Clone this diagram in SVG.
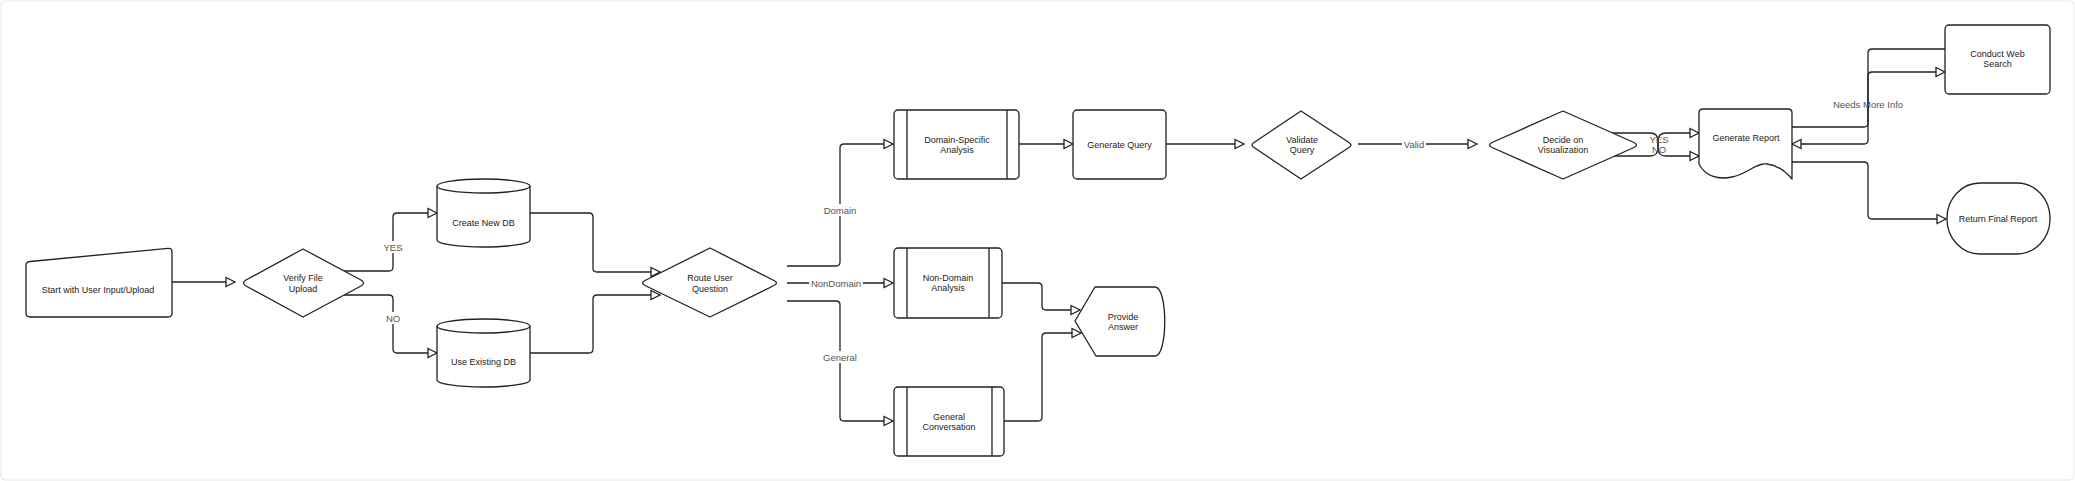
<svg xmlns="http://www.w3.org/2000/svg" width="2075" height="481" viewBox="0 0 2075 481">
<defs>
<marker id="arr" viewBox="0 0 12 12" refX="10.5" refY="6" markerWidth="12" markerHeight="12" markerUnits="userSpaceOnUse" orient="auto">
<path d="M1.5,1.5 L10.5,6 L1.5,10.5 Z" fill="#fff" stroke="#222" stroke-width="1.3" stroke-linejoin="miter"/>
</marker>
</defs>
<style>
.shape{fill:#fff;stroke:#222;stroke-width:1.3;stroke-linejoin:round}
.inner{fill:none;stroke:#222;stroke-width:1.3}
.edge{fill:none;stroke:#222;stroke-width:1.3;marker-end:url(#arr)}
.plain{fill:none;stroke:#222;stroke-width:1.3}
.t{font-family:"Liberation Sans",Arial,sans-serif;font-size:9px;fill:#222;text-anchor:middle;dominant-baseline:central}
.lbl{font-family:"Liberation Sans",Arial,sans-serif;font-size:9.5px;fill:#555;text-anchor:middle;dominant-baseline:central}
.bg{fill:#fff;stroke:none}
</style>
<rect x="1" y="1" width="2073" height="479" rx="4" fill="#fff" stroke="#e8e8e8" stroke-width="1"/>

<g id="connectors">
<path class="edge" d="M172,282 H235"/>
<path class="edge" d="M344,271 H389 Q393,271 393,267 V217 Q393,213 397,213 H437"/>
<path class="edge" d="M344,295 H389 Q393,295 393,299 V349 Q393,353 397,353 H437"/>
<path class="edge" d="M530,213 H589 Q593,213 593,217 V268 Q593,272 597,272 H660"/>
<path class="edge" d="M530,353 H589 Q593,353 593,349 V299 Q593,295 597,295 H660"/>
<path class="edge" d="M787,266 H836 Q840,266 840,262 V148 Q840,144 844,144 H893"/>
<path class="edge" d="M787,283 H893"/>
<path class="edge" d="M787,301 H836 Q840,301 840,305 V417 Q840,421 844,421 H893"/>
<path class="edge" d="M1019,144 H1073"/>
<path class="edge" d="M1002,283 H1038 Q1042,283 1042,287 V306 Q1042,310 1046,310 H1080"/>
<path class="edge" d="M1004,421 H1038 Q1042,421 1042,417 V337 Q1042,333 1046,333 H1081"/>
<path class="edge" d="M1166,144 H1244"/>
<path class="edge" d="M1358,144 H1477"/>
<path class="edge" d="M1612,133 H1650 Q1658,133 1658,141 V148 Q1658,156 1666,156 H1699"/>
<path class="edge" d="M1612,156 H1650 Q1658,156 1658,148 V141 Q1658,133 1666,133 H1699"/>
<path class="edge" d="M1792,127 H1864 Q1868,127 1868,123 V76 Q1868,72 1872,72 H1945"/>
<path class="edge" d="M1945,49 H1872 Q1868,49 1868,53 V140 Q1868,144 1864,144 H1792"/>
<path class="edge" d="M1792,162 H1864 Q1868,162 1868,166 V215 Q1868,219 1872,219 H1946"/>

<rect class="bg" x="384" y="241" width="18" height="12"/>
<text class="lbl" x="393" y="247">YES</text>
<rect class="bg" x="385" y="312" width="16" height="12"/>
<text class="lbl" x="393" y="318">NO</text>
<rect class="bg" x="822" y="204" width="36" height="12"/>
<text class="lbl" x="840" y="210">Domain</text>
<rect class="bg" x="809" y="277" width="54" height="12"/>
<text class="lbl" x="836" y="283">NonDomain</text>
<rect class="bg" x="822" y="351" width="36" height="12"/>
<text class="lbl" x="840" y="357">General</text>
<rect class="bg" x="1402" y="138" width="24" height="12"/>
<text class="lbl" x="1414" y="144">Valid</text>
<text class="lbl" x="1659" y="139">YES</text>
<text class="lbl" x="1659" y="149">NO</text>
<text class="lbl" x="1868" y="104">Needs More Info</text>
</g>

<g id="start">
<path class="shape" d="M30,261.5 L168,248.4 Q172,248 172,252 V313 Q172,317 168,317 H30 Q26,317 26,313 V265.5 Q26,262 30,261.5 Z"/>
<text class="t" x="98" y="290">Start with User Input/Upload</text>
</g>

<g id="verify">
<path class="shape" d="M246,280 L303,249 L361,280 Q366,283 361,286 L303,317 L246,286 Q241,283 246,280 Z"/>
<text class="t" x="303" y="278">Verify File</text>
<text class="t" x="303" y="288.5">Upload</text>
</g>

<g id="createdb">
<path class="shape" d="M437,186 A46.5,7 0 0,1 530,186 V240 A46.5,7 0 0,1 437,240 Z"/>
<path class="inner" d="M437,186 A46.5,7 0 0,0 530,186"/>
<text class="t" x="483.5" y="223">Create New DB</text>
</g>

<g id="usedb">
<path class="shape" d="M437,326 A46.5,7 0 0,1 530,326 V380 A46.5,7 0 0,1 437,380 Z"/>
<path class="inner" d="M437,326 A46.5,7 0 0,0 530,326"/>
<text class="t" x="483.5" y="362">Use Existing DB</text>
</g>

<g id="route">
<path class="shape" d="M645,280.5 L710,248 L774,280.5 Q779,283 774,285.5 L710,317 L645,285.5 Q640,283 645,280.5 Z"/>
<text class="t" x="710" y="278">Route User</text>
<text class="t" x="710" y="288.5">Question</text>
</g>

<g id="domain">
<rect class="shape" x="894" y="110" width="125" height="69" rx="4"/>
<path class="inner" d="M907,110 V179 M1007,110 V179"/>
<text class="t" x="957" y="140">Domain-Specific</text>
<text class="t" x="957" y="150">Analysis</text>
</g>

<g id="genquery">
<rect class="shape" x="1073" y="110" width="93" height="69" rx="4"/>
<text class="t" x="1119.5" y="145">Generate Query</text>
</g>

<g id="nondomain">
<rect class="shape" x="894" y="248" width="108" height="70" rx="4"/>
<path class="inner" d="M907,248 V318 M989,248 V318"/>
<text class="t" x="948" y="278">Non-Domain</text>
<text class="t" x="948" y="288">Analysis</text>
</g>

<g id="general">
<rect class="shape" x="894" y="387" width="110" height="69" rx="4"/>
<path class="inner" d="M907,387 V456 M992,387 V456"/>
<text class="t" x="949" y="416.5">General</text>
<text class="t" x="949" y="427">Conversation</text>
</g>

<g id="provide">
<path class="shape" d="M1075,321 L1095,287 H1155 C1168,287 1168,356 1155,356 H1096 Z"/>
<text class="t" x="1123" y="317">Provide</text>
<text class="t" x="1123" y="327">Answer</text>
</g>

<g id="validate">
<path class="shape" d="M1254,142.5 L1301,111 L1349,142.5 Q1353,145 1349,147.5 L1301,179 L1254,147.5 Q1250,145 1254,142.5 Z"/>
<text class="t" x="1302" y="140">Validate</text>
<text class="t" x="1302" y="150">Query</text>
</g>

<g id="decide">
<path class="shape" d="M1492,142.5 L1563,111 L1634,142.5 Q1639,145 1634,147.5 L1563,179 L1492,147.5 Q1487,145 1492,142.5 Z"/>
<text class="t" x="1563" y="140">Decide on</text>
<text class="t" x="1563" y="150">Visualization</text>
</g>

<g id="report">
<path class="shape" d="M1699,164 V113 Q1699,109 1703,109 H1788 Q1792,109 1792,113 V179 C1786,172 1778,165 1767,164 C1755,163 1748,174 1732,177 C1718,180 1705,176 1699,164 Z"/>
<text class="t" x="1746" y="138">Generate Report</text>
</g>

<g id="websearch">
<rect class="shape" x="1945" y="25" width="105" height="69" rx="4"/>
<text class="t" x="1997.5" y="54">Conduct Web</text>
<text class="t" x="1997.5" y="64">Search</text>
</g>

<g id="final">
<rect class="shape" x="1947" y="183" width="103" height="71" rx="33" ry="35"/>
<text class="t" x="1998" y="219">Return Final Report</text>
</g>
</svg>
